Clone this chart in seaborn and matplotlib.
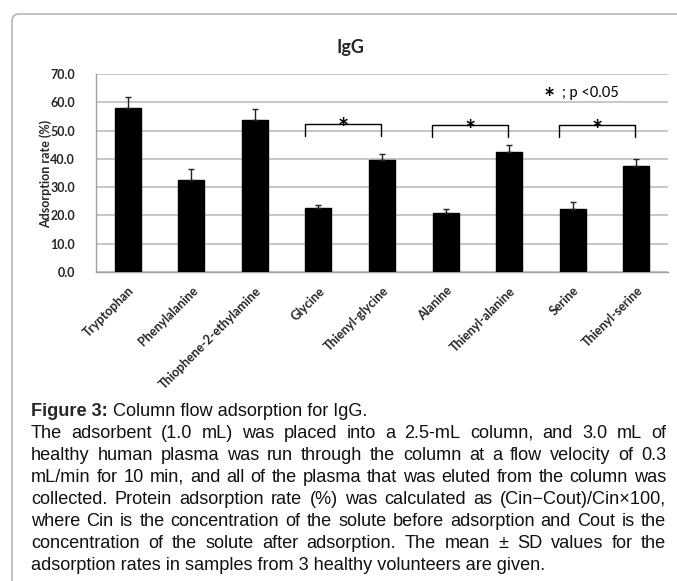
import matplotlib
matplotlib.use("Agg")
import matplotlib.pyplot as plt
import seaborn as sns
import numpy as np
from matplotlib.patches import FancyBboxPatch

categories = ["Tryptophan", "Phenylalanine", "Thiophene-2-ethylamine", "Glycine",
              "Thienyl-glycine", "Alanine", "Thienyl-alanine", "Serine", "Thienyl-serine"]
means = [57.9, 32.4, 53.6, 22.7, 39.7, 20.8, 42.5, 22.3, 37.4]
sds = [4.1, 4.0, 4.0, 1.0, 1.9, 1.4, 2.5, 2.5, 2.4]
yticks = [0, 10, 20, 30, 40, 50, 60, 70]
pairs = [(3, 4, 52.5, 48.2), (5, 6, 51.9, 47.6), (7, 8, 51.9, 47.6)]

caption_lines = [
    "The adsorbent (1.0 mL) was placed into a 2.5-mL column, and 3.0 mL of",
    "healthy human plasma was run through the column at a flow velocity of 0.3",
    "mL/min for 10 min, and all of the plasma that was eluted from the column was",
    "collected. Protein adsorption rate (%) was calculated as (Cin\u2212Cout)/Cin\u00d7100,",
    "where Cin is the concentration of the solute before adsorption and Cout is the",
    "concentration of the solute after adsorption. The mean \u00b1 SD values for the",
    "adsorption rates in samples from 3 healthy volunteers are given.",
]

sns.set_theme(style="white")
cap_font = "Liberation Sans"
chart_font = "Lato"
plt.rcParams["font.family"] = [chart_font, "DejaVu Sans"]

W, H = 677, 581
fig = plt.figure(figsize=(W / 100, H / 100), dpi=100)
fig.patch.set_facecolor("white")

# frame box
box = FancyBboxPatch((12 / 100, -0.5), 7.5, (H - 14) / 100 + 0.5,
                     boxstyle="round,pad=0,rounding_size=0.07",
                     transform=fig.dpi_scale_trans, facecolor="none",
                     edgecolor="#a8a8a8", linewidth=1.0, zorder=0)
fig.patches.append(box)

ax = fig.add_axes([96 / W, 1 - 272 / H, (668 - 96) / W, (272 - 74) / H])
sns.barplot(x=categories, y=means, color="black", width=0.41, ax=ax,
            saturation=1, zorder=3, edgecolor="black")
ax.errorbar(np.arange(len(categories)), means, yerr=[np.zeros(len(sds)), sds],
            fmt="none", ecolor="#222222", elinewidth=1.0, capsize=2.5, capthick=1.0, zorder=4)

ax.set_ylim(0, 70)
ax.set_xlim(-0.5, len(categories) - 0.5)
ax.set_yticks(yticks)
ax.set_yticklabels([f"{v:.1f}" for v in yticks], fontweight="bold", fontsize=9)
ax.yaxis.grid(True, color="#bdbdbd", linewidth=1.2, zorder=0)
ax.set_axisbelow(True)
for s in ["top", "right"]:
    ax.spines[s].set_visible(False)
for s in ["left", "bottom"]:
    ax.spines[s].set_color("#a0a0a0")
    ax.spines[s].set_linewidth(1.0)
ax.tick_params(axis="y", length=0, pad=15)
ax.tick_params(axis="x", length=0, pad=9)
ax.set_xticks(np.arange(len(categories)))
ax.set_xticklabels(categories, rotation=45, ha="right", rotation_mode="anchor",
                   fontweight="bold", fontsize=9)
ax.set_xlabel("")
ax.set_ylabel("")

# significance brackets
for i, j, top, bot in pairs:
    xl, xr = i - 0.21, j - 0.02
    ax.plot([xl, xl, xr, xr], [bot, top, top, bot], color="black", linewidth=1.0,
            zorder=5, clip_on=False)
    ax.text((xl + xr) / 2, top - 6.3, "*", ha="center", va="bottom", fontsize=19,
            fontweight="bold", color="black", zorder=6)

ax.text(6.63, 56.8, "*", ha="center", va="bottom", fontsize=19, fontweight="bold", color="black")
ax.text(6.84, 63.3, "; p <0.05", ha="left", va="center", fontsize=10.5, color="black")

fig.text(350 / W, 1 - 47 / H, "IgG", ha="center", va="center", fontsize=13, fontweight="bold")
fig.text(46 / W, 1 - 174 / H, "Adsorption rate (%)", ha="center", va="center",
         rotation=90, fontsize=9, fontweight="bold")

# caption
x0, x1 = 31, 666
fs = 13.1
base0 = 416
fam = [cap_font, "DejaVu Sans"]
t1 = fig.text(x0 / W, 1 - base0 / H, "Figure 3:", fontsize=fs, fontweight="bold",
              family=fam, va="baseline", ha="left")
fig.canvas.draw()
r = fig.canvas.get_renderer()
wb = t1.get_window_extent(r).width
fig.text((x0 + wb) / W, 1 - base0 / H, " Column flow adsorption for IgG.", fontsize=fs,
         family=fam, va="baseline", ha="left", color="#111111")

for k, line in enumerate(caption_lines):
    yb = base0 + 22 * (k + 1)
    yf = 1 - yb / H
    if k == len(caption_lines) - 1:
        fig.text(x0 / W, yf, line, fontsize=fs, family=fam,
                 va="baseline", ha="left", color="#111111")
        continue
    words = line.split(" ")
    texts = [fig.text(0, yf, w, fontsize=fs, family=fam,
                      va="baseline", ha="left", color="#111111") for w in words]
    fig.canvas.draw()
    widths = [t.get_window_extent(r).width for t in texts]
    gap = max(2.5, (x1 - x0 - sum(widths)) / (len(words) - 1))
    x = x0
    for t, w in zip(texts, widths):
        t.set_x(x / W)
        x += w + gap

fig.savefig("out.png", dpi=100, facecolor="white")
